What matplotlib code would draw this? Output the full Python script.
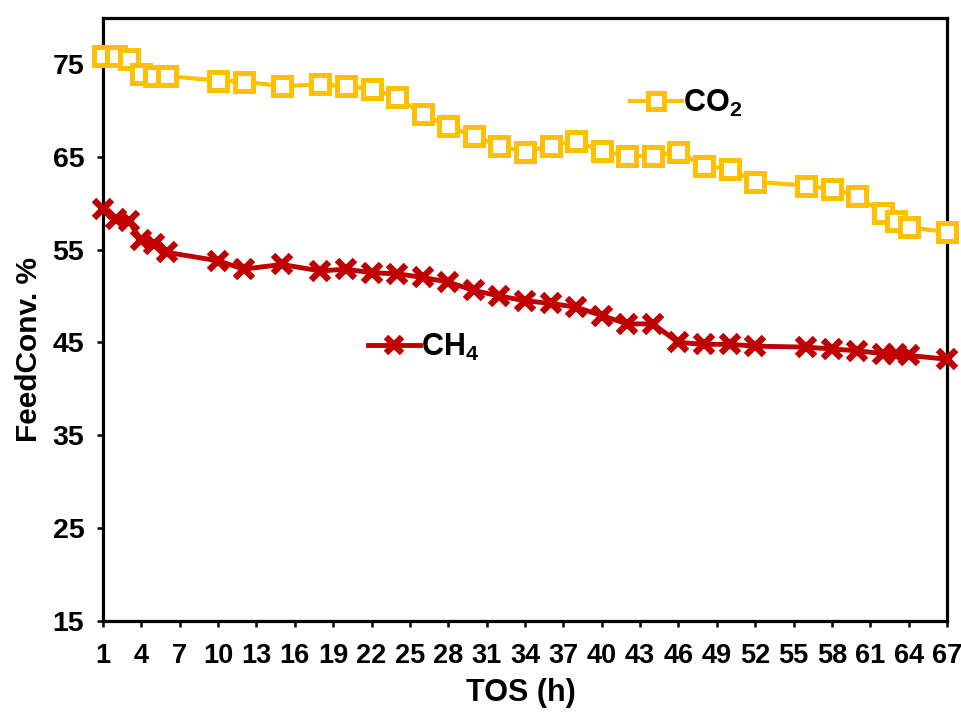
import matplotlib
matplotlib.use("Agg")
import matplotlib.pyplot as plt
from matplotlib.ticker import FixedLocator

# ---- data ----
tos_h = [1, 2, 3, 4, 5, 6, 10, 12, 15, 18, 20, 22, 24, 26, 28, 30, 32, 34, 36, 38,
         40, 42, 44, 46, 48, 50, 52, 56, 58, 60, 62, 63, 64, 67]
co2_conv = [75.9, 75.9, 75.5, 73.9, 73.7, 73.7, 73.2, 73.1, 72.6, 72.8, 72.6, 72.3,
            71.4, 69.6, 68.3, 67.2, 66.2, 65.5, 66.2, 66.7, 65.6, 65.1, 65.1, 65.5,
            64.0, 63.7, 62.3, 61.9, 61.5, 60.8, 58.9, 58.1, 57.4, 56.9]
ch4_conv = [59.4, 58.3, 58.1, 56.0, 55.6, 54.7, 53.8, 52.9, 53.4, 52.7, 52.9, 52.5,
            52.4, 52.0, 51.5, 50.6, 50.0, 49.5, 49.2, 48.8, 47.9, 47.0, 47.0, 45.0,
            44.8, 44.8, 44.6, 44.5, 44.3, 44.1, 43.8, 43.8, 43.6, 43.2]
x_ticks = list(range(1, 68, 3))
y_ticks = [15, 25, 35, 45, 55, 65, 75]
series_labels = ["CO$_2$", "CH$_4$"]

CO2_COLOR = "#FFC000"
CH4_COLOR = "#C00000"

plt.rcParams["font.family"] = ["Liberation Sans", "DejaVu Sans"]
plt.rcParams["mathtext.fontset"] = "custom"
plt.rcParams["mathtext.rm"] = "Liberation Sans"
plt.rcParams["mathtext.it"] = "Liberation Sans"
plt.rcParams["mathtext.bf"] = "Liberation Sans:bold"
plt.rcParams["mathtext.default"] = "regular"

fig = plt.figure(figsize=(9.62, 7.18), dpi=100)
ax = fig.add_axes([103 / 962, 1 - 621 / 718, (947 - 103) / 962, (621 - 17.5) / 718])

l_co2, = ax.plot(tos_h, co2_conv, color=CO2_COLOR, lw=3.0, marker="s", ms=12.5,
                 mfc="white", mec=CO2_COLOR, mew=3.6, clip_on=False, zorder=3)
l_ch4, = ax.plot(tos_h, ch4_conv, color=CH4_COLOR, lw=3.5, marker="x", ms=13,
                 mec=CH4_COLOR, mew=4.6, clip_on=False, zorder=3)

ax.set_xlim(1, 67)
ax.set_ylim(15, 80)
ax.xaxis.set_major_locator(FixedLocator(x_ticks))
ax.yaxis.set_major_locator(FixedLocator(y_ticks))

for s in ax.spines.values():
    s.set_linewidth(2.3)
    s.set_color("black")

ax.tick_params(axis="both", direction="out", length=4.5, width=1.8, color="black")
ax.tick_params(axis="x", pad=11)
ax.tick_params(axis="y", pad=9)

for lab in ax.get_xticklabels():
    lab.set_fontweight("bold")
    lab.set_fontsize(19.5)
for lab in ax.get_yticklabels():
    lab.set_fontweight("bold")
    lab.set_fontsize(20.5)

ax.set_xlabel("TOS (h)", fontsize=22, fontweight="bold")
ax.set_ylabel("FeedConv. %", fontsize=21.5, fontweight="bold")
ax.xaxis.set_label_coords((521 - 103) / 844, (621 - 678) / 603.5)
ax.yaxis.set_label_coords((43 - 103) / 844, (621 - 349) / 603.5)

leg_props = dict(family="Liberation Sans", weight="bold", size=22)
leg1 = ax.legend([l_co2], [series_labels[0]], loc="center left",
                 bbox_to_anchor=((630 - 103) / 844, (621 - 103) / 603.5),
                 frameon=False, borderpad=0, borderaxespad=0, handlelength=1.7,
                 handletextpad=0.05, prop=leg_props, markerscale=0.9)
ax.add_artist(leg1)
leg2 = ax.legend([l_ch4], [series_labels[1]], loc="center left",
                 bbox_to_anchor=((368 - 103) / 844, (621 - 347) / 603.5),
                 frameon=False, borderpad=0, borderaxespad=0, handlelength=1.7,
                 handletextpad=0.05, prop=leg_props, markerscale=0.9)

fig.savefig("out.png", dpi=100)
